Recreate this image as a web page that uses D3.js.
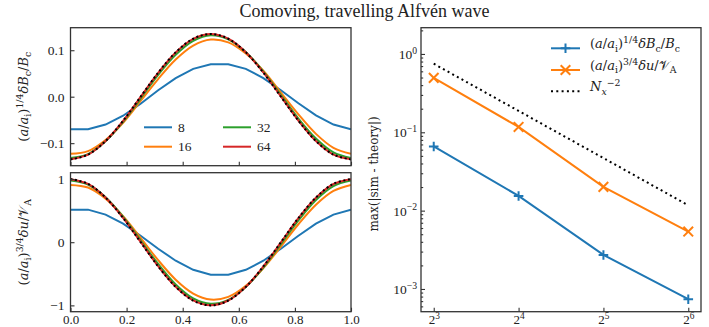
<!DOCTYPE html>
<html>
<head>
<meta charset="utf-8">
<script src="https://cdn.jsdelivr.net/npm/d3@7"></script>
<style>
  body { margin: 0; background: #fff; }
  svg { display: block; }
  svg text { font-family: "Liberation Serif", "DejaVu Serif", serif; fill: #222; }
  svg text.math { font-family: "DejaVu Serif", "Liberation Serif", serif; }
</style>
</head>
<body>
<div id="chart"></div>
<script>
/* ---- data ---- */
var xs = [0, 0.0625, 0.125, 0.1875, 0.25, 0.3125, 0.375, 0.4375, 0.5, 0.5625, 0.625, 0.6875, 0.75, 0.8125, 0.875, 0.9375, 1];
var resolutions = ["8", "16", "32", "64"];
var colors = ["#1f77b4", "#ff7f0e", "#2ca02c", "#d62728"];

// top panel: (a/ai)^1/4 dB_c / B_c
var dB_8  = [-0.070, -0.070, -0.060, -0.041, -0.015, 0.014, 0.040, 0.060, 0.070, 0.070, 0.060, 0.040, 0.014, -0.014, -0.040, -0.060, -0.070];
var dB_16 = [-0.123, -0.117, -0.093, -0.056, -0.009, 0.038, 0.080, 0.110, 0.123, 0.117, 0.093, 0.056, 0.009, -0.038, -0.080, -0.110, -0.123];
var dB_32 = [-0.132, -0.1235, -0.096, -0.054, -0.004, 0.047, 0.090, 0.120, 0.132, 0.1235, 0.096, 0.054, 0.004, -0.047, -0.090, -0.120, -0.132];
var dB_64 = [-0.1348, -0.1247, -0.0956, -0.0520, -0.0005, 0.0512, 0.0952, 0.1245, 0.1348, 0.1248, 0.0957, 0.0521, 0.0006, -0.0513, -0.0953, -0.1246, -0.1348];
var dB_theory = [-0.135, -0.1247, -0.0955, -0.0517, 0, 0.0517, 0.0955, 0.1247, 0.135, 0.1247, 0.0955, 0.0517, 0, -0.0517, -0.0955, -0.1247, -0.135];

// bottom panel: (a/ai)^3/4 du / V_A
var du_8  = [0.515, 0.515, 0.437, 0.293, 0.103, -0.103, -0.293, -0.437, -0.515, -0.515, -0.437, -0.293, -0.103, 0.103, 0.293, 0.437, 0.515];
var du_16 = [0.907, 0.865, 0.690, 0.411, 0.069, -0.284, -0.593, -0.812, -0.907, -0.865, -0.690, -0.411, -0.069, 0.284, 0.593, 0.812, 0.907];
var du_32 = [0.975, 0.913, 0.711, 0.401, 0.031, -0.345, -0.668, -0.889, -0.975, -0.913, -0.711, -0.401, -0.031, 0.345, 0.668, 0.889, 0.975];
var du_64 = [0.998, 0.923, 0.707, 0.384, 0.004, -0.380, -0.704, -0.921, -0.998, -0.923, -0.707, -0.384, -0.004, 0.380, 0.704, 0.921, 0.998];
var du_theory = [1, 0.9239, 0.7071, 0.3827, 0, -0.3827, -0.7071, -0.9239, -1, -0.9239, -0.7071, -0.3827, 0, 0.3827, 0.7071, 0.9239, 1];

// right panel: convergence
var Nx = [8, 16, 32, 64];
var err_B = [0.066, 0.0154, 0.00272, 0.00074];
var err_u = [0.495, 0.117, 0.0201, 0.0054];
var err_ref = [0.75, 0.1875, 0.0469, 0.0117];

var leftTicksX = [0, 0.2, 0.4, 0.6, 0.8, 1.0];
var topTicksY = [-0.1, 0, 0.1];
var botTicksY = [-1, 0, 1];
var decadesY = [1e-3, 1e-2, 1e-1, 1];

/* ---- layout ---- */
var W = 709, H = 327, FS = 13.5;
var L = { x0: 70.5, x1: 351 }, TOP = { y0: 27.7, y1: 165.7 }, BOT = { y0: 172.7, y1: 311.7 };
var R = { x0: 421, x1: 701, y0: 27.7, y1: 311.7 };
var XLAB_BASE = 12.3;   // tick label baseline below the bottom spine

var svg = d3.select("#chart").append("svg").attr("width", W).attr("height", H)
  .attr("font-family", "Liberation Serif, DejaVu Serif, serif");

/* crude math text: parts = [[text, kind]] kind: r, i, sub, subi, sup */
function mathText(sel, parts, size) {
  var shift = 0;
  parts.forEach(function(p) {
    var kind = p[1] || "r";
    var target = kind.indexOf("sup") === 0 ? -0.38 * size : kind.indexOf("sub") === 0 ? 0.25 * size : 0;
    var small = target !== 0;
    sel.append("tspan").text(p[0])
      .attr("dy", target - shift)
      .style("font-size", (small ? 0.72 * size : size) + "px")
      .style("font-style", /i$/.test(kind) ? "italic" : "normal");
    shift = target;
  });
}

var labB = [["(", "r"], ["a", "i"], ["/", "r"], ["a", "i"], ["i", "sub"], [")", "r"], ["1/4", "sup"], ["\u03b4B", "i"], ["c", "sub"], ["/", "r"], ["B", "i"], ["c", "sub"]];
var labU = [["(", "r"], ["a", "i"], ["/", "r"], ["a", "i"], ["i", "sub"], [")", "r"], ["3/4", "sup"], ["\u03b4u", "i"], ["/", "r"], ["\ud835\udcb1", "r"], ["A", "sub"]];
var labRef = [["N", "i"], ["x", "subi"], ["\u22122", "sup"]];

function styleTicks(a) {
  a.select(".domain").remove();
  a.selectAll("line").attr("stroke", "#333").attr("stroke-width", 1.1);
  a.selectAll("text").attr("font-family", null).style("font-size", FS + "px").attr("fill", "#222");
}

/* ---- left panels ---- */
var xL = d3.scaleLinear().domain([0, 1]).range([L.x0, L.x1]);
var yTop = d3.scaleLinear().domain([-0.1485, 0.1485]).range([TOP.y1, TOP.y0]);
var yBot = d3.scaleLinear().domain([-1.1, 1.1]).range([BOT.y1, BOT.y0]);

function drawPanel(id, box, yScale, series, theory, yTicks, fmt, showX, ylab) {
  var g = svg.append("g");
  g.append("clipPath").attr("id", id).append("rect")
    .attr("x", L.x0).attr("y", box.y0).attr("width", L.x1 - L.x0).attr("height", box.y1 - box.y0);
  var plot = g.append("g").attr("clip-path", "url(#" + id + ")");

  series.forEach(function(s, i) {
    var line = d3.line().x(function(d, j) { return xL(xs[j]); }).y(function(d) { return yScale(d); })
      .curve(i === 0 ? d3.curveLinear : d3.curveCatmullRom);
    plot.append("path").datum(s).attr("d", line)
      .attr("fill", "none").attr("stroke", colors[i]).attr("stroke-width", 2);
  });
  var thLine = d3.line().x(function(d, j) { return xL(xs[j]); }).y(function(d) { return yScale(d); }).curve(d3.curveCatmullRom);
  plot.append("path").datum(theory).attr("d", thLine)
    .attr("fill", "none").attr("stroke", "#000").attr("stroke-width", 2).attr("stroke-dasharray", "2,2.6");

  var ay = g.append("g").attr("transform", "translate(" + L.x0 + ",0)")
    .call(d3.axisLeft(yScale).tickValues(yTicks).tickFormat(fmt).tickSizeInner(-4).tickSizeOuter(0).tickPadding(6));
  var ax = g.append("g").attr("transform", "translate(0," + box.y1 + ")")
    .call(d3.axisBottom(xL).tickValues(leftTicksX).tickFormat(showX ? d3.format(".1f") : "").tickSizeInner(-4).tickSizeOuter(0));
  styleTicks(ay);
  styleTicks(ax);
  ax.selectAll("text").attr("dy", null).attr("y", XLAB_BASE).style("font-size", "13px");

  g.append("rect").attr("x", L.x0).attr("y", box.y0).attr("width", L.x1 - L.x0).attr("height", box.y1 - box.y0)
    .attr("fill", "none").attr("stroke", "#333").attr("stroke-width", 1.3);

  var t = g.append("text").attr("class", "math").attr("text-anchor", "middle")
    .attr("transform", "translate(27.5," + ((box.y0 + box.y1) / 2) + ") rotate(-90)");
  mathText(t, ylab, 13);
}

var minus = function(f) { return function(d) { return f(d).replace("-", "\u2212"); }; };
drawPanel("clipTop", TOP, yTop, [dB_8, dB_16, dB_32, dB_64], dB_theory, topTicksY, minus(d3.format(".1f")), false, labB);
drawPanel("clipBot", BOT, yBot, [du_8, du_16, du_32, du_64], du_theory, botTicksY, minus(d3.format("d")), true, labU);

// left legend (two columns)
var legPos = [[144, 127.3], [144, 146.7], [223, 127.3], [223, 146.7]];
resolutions.forEach(function(r, i) {
  var p = legPos[i];
  svg.append("line").attr("x1", p[0]).attr("x2", p[0] + 28).attr("y1", p[1]).attr("y2", p[1])
    .attr("stroke", colors[i]).attr("stroke-width", 2);
  svg.append("text").attr("x", p[0] + 34).attr("y", p[1]).attr("dy", "0.35em")
    .style("font-size", FS + "px").text(r);
});

/* ---- right panel ---- */
var xR = d3.scaleLog().base(2).domain([Math.pow(2, 2.85), Math.pow(2, 6.15)]).range([R.x0, R.x1]);
var yR = d3.scaleLog().domain([Math.pow(10, -3.29), Math.pow(10, 0.335)]).range([R.y1, R.y0]);

var gR = svg.append("g");
var logLine = d3.line().x(function(d, i) { return xR(Nx[i]); }).y(function(d) { return yR(d); });

gR.append("path").datum(err_ref).attr("d", logLine).attr("fill", "none")
  .attr("stroke", "#000").attr("stroke-width", 2).attr("stroke-dasharray", "2,3.3");
gR.append("path").datum(err_B).attr("d", logLine).attr("fill", "none").attr("stroke", colors[0]).attr("stroke-width", 2);
gR.append("path").datum(err_u).attr("d", logLine).attr("fill", "none").attr("stroke", colors[1]).attr("stroke-width", 2);

function marker(g, x, y, type, color) {
  var s = 4.8;
  var d = type === "+" ? "M" + (x - s) + "," + y + "H" + (x + s) + "M" + x + "," + (y - s) + "V" + (y + s)
                       : "M" + (x - s) + "," + (y - s) + "L" + (x + s) + "," + (y + s) + "M" + (x - s) + "," + (y + s) + "L" + (x + s) + "," + (y - s);
  g.append("path").attr("d", d).attr("stroke", color).attr("stroke-width", 2).attr("fill", "none");
}
err_B.forEach(function(v, i) { marker(gR, xR(Nx[i]), yR(v), "+", colors[0]); });
err_u.forEach(function(v, i) { marker(gR, xR(Nx[i]), yR(v), "x", colors[1]); });

// axes
var axR = gR.append("g").attr("transform", "translate(0," + R.y1 + ")")
  .call(d3.axisBottom(xR).tickValues(Nx).tickFormat("").tickSizeInner(-4).tickSizeOuter(0));
var ayR = gR.append("g").attr("transform", "translate(" + R.x0 + ",0)")
  .call(d3.axisLeft(yR).tickValues(decadesY).tickFormat("").tickSizeInner(-4).tickSizeOuter(0).tickPadding(4));
var minorY = yR.ticks().filter(function(d) { return Math.abs(Math.log10(d) - Math.round(Math.log10(d))) > 1e-6; });
var myR = gR.append("g").attr("transform", "translate(" + R.x0 + ",0)")
  .call(d3.axisLeft(yR).tickValues(minorY).tickFormat("").tickSizeInner(-2.2).tickSizeOuter(0));
[axR, ayR, myR].forEach(styleTicks);

axR.selectAll(".tick text").attr("dy", null).attr("y", XLAB_BASE).style("font-size", "13px")
  .each(function(d) { mathText(d3.select(this), [["2", "r"], [String(Math.round(Math.log2(d))), "sup"]], 13); });
ayR.selectAll(".tick text").attr("dy", null).attr("y", 0.33 * FS)
  .each(function(d) {
    var e = Math.round(Math.log10(d));
    mathText(d3.select(this), [["10", "r"], [e < 0 ? "\u2212" + (-e) : String(e), "sup"]], FS);
  });

gR.append("rect").attr("x", R.x0).attr("y", R.y0).attr("width", R.x1 - R.x0).attr("height", R.y1 - R.y0)
  .attr("fill", "none").attr("stroke", "#333").attr("stroke-width", 1.3);

svg.append("text").attr("class", "math").attr("text-anchor", "middle")
  .attr("transform", "translate(378,174) rotate(-90)")
  .style("font-size", "12px").text("max(|sim - theory|)");

// right legend
var legR = [
  { y: 48.3, color: colors[0], m: "+", dash: null, lab: labB },
  { y: 70, color: colors[1], m: "x", dash: null, lab: labU },
  { y: 91.3, color: "#000", m: null, dash: "2,3.3", lab: labRef }
];
legR.forEach(function(e) {
  svg.append("line").attr("x1", 551).attr("x2", 580).attr("y1", e.y).attr("y2", e.y)
    .attr("stroke", e.color).attr("stroke-width", 2).attr("stroke-dasharray", e.dash);
  if (e.m) marker(svg, 565.5, e.y, e.m, e.color);
  var t = svg.append("text").attr("class", "math").attr("x", 590).attr("y", e.y).attr("dy", "0.35em");
  mathText(t, e.lab, 13);
});

/* ---- title ---- */
svg.append("text").attr("x", 364.5).attr("y", 17).attr("text-anchor", "middle")
  .style("font-size", "18px").text("Comoving, travelling Alfv\u00e9n wave");
</script>
</body>
</html>
